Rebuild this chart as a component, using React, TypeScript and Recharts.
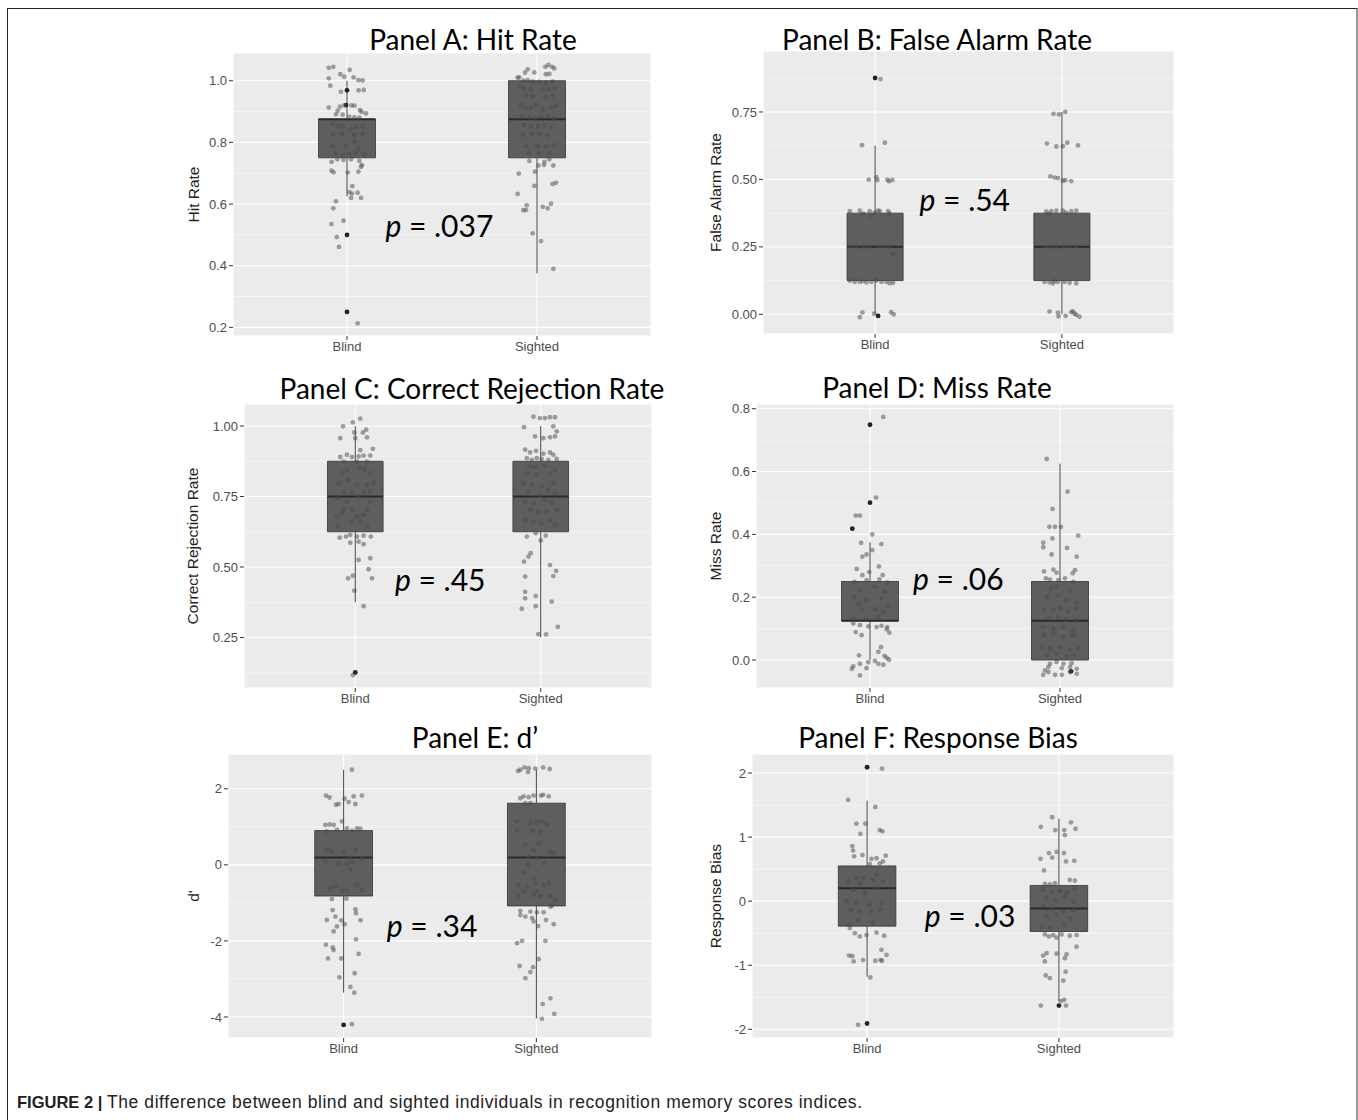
import React from 'react'
import {
  ComposedChart,
  Scatter,
  XAxis,
  YAxis,
  CartesianGrid,
  ReferenceArea,
  ReferenceLine,
} from 'recharts'

const groups = ['Blind', 'Sighted']

// jittered points: [offset from group, value]
const hitBlind = [
  [-0.096, 1.042], [-0.072, 1.045], [-0.035, 1.021], [-0.014, 1.013], [0.014, 1.035], [0.035, 1.011],
  [0.06, 1.002], [0.082, 1.001], [-0.096, 1.008], [-0.088, 0.984], [-0.032, 0.964], [0.061, 0.969],
  [0.088, 0.97], [-0.096, 0.913], [-0.049, 0.903], [-0.037, 0.916], [-0.014, 0.92], [0.023, 0.92],
  [0.039, 0.919], [0.068, 0.905], [0.077, 0.899], [0.1, 0.894], [-0.058, 0.891], [-0.023, 0.89],
  [0.012, 0.883], [0.039, 0.881], [0.065, 0.88], [-0.075, 0.862], [-0.049, 0.853], [-0.023, 0.851],
  [0.021, 0.845], [0.047, 0.851], [0.082, 0.853], [-0.075, 0.827], [-0.028, 0.829], [0.039, 0.824],
  [0.082, 0.829], [-0.075, 0.786], [-0.005, 0.788], [0.04, 0.802], [0.061, 0.78], [-0.058, 0.764],
  [-0.023, 0.759], [0.012, 0.761], [0.047, 0.766], [0.091, 0.76], [-0.081, 0.737], [-0.051, 0.745],
  [-0.019, 0.743], [0.021, 0.745], [0.065, 0.74], [0.079, 0.726], [-0.082, 0.708], [-0.07, 0.703],
  [0.004, 0.702], [0.06, 0.705], [0.074, 0.721], [0.028, 0.658], [0.012, 0.639], [0.026, 0.634],
  [0.056, 0.637], [0.074, 0.62], [0.021, 0.62], [-0.058, 0.609], [-0.072, 0.586], [-0.082, 0.535],
  [-0.018, 0.546], [-0.054, 0.493], [-0.042, 0.461], [0.056, 0.213],
]
const hitSighted = [
  [-0.102, 1.01], [-0.093, 1.011], [-0.063, 1.026], [-0.049, 1.037], [-0.014, 1.027], [0.044, 1.045],
  [0.06, 1.051], [0.079, 1.045], [0.091, 1.04], [0.047, 1.021], [0.065, 1.022], [-0.072, 1.0],
  [-0.049, 1.002], [-0.023, 0.997], [0.012, 0.996], [0.047, 0.994], [0.082, 0.997], [-0.089, 0.981],
  [-0.067, 0.975], [-0.032, 0.972], [0.03, 0.975], [0.061, 0.972], [0.091, 0.975], [-0.058, 0.954],
  [-0.023, 0.95], [0.047, 0.945], [0.082, 0.952], [-0.084, 0.918], [-0.061, 0.91], [-0.032, 0.913],
  [-0.005, 0.921], [0.03, 0.907], [0.074, 0.913], [0.1, 0.918], [-0.075, 0.883], [-0.04, 0.881],
  [-0.009, 0.878], [0.021, 0.883], [0.056, 0.886], [0.091, 0.878], [-0.067, 0.856], [-0.032, 0.851],
  [0.004, 0.853], [0.039, 0.856], [0.074, 0.849], [-0.072, 0.824], [-0.026, 0.827], [0.012, 0.829],
  [0.056, 0.824], [-0.058, 0.788], [0.004, 0.788], [0.047, 0.786], [0.091, 0.791], [-0.044, 0.766],
  [0.009, 0.764], [0.065, 0.766], [-0.04, 0.74], [0.039, 0.737], [0.065, 0.745], [0.086, 0.725],
  [0.007, 0.725], [0.037, 0.727], [-0.096, 0.699], [-0.011, 0.705], [-0.014, 0.659], [0.1, 0.669],
  [0.082, 0.665], [-0.102, 0.633], [-0.054, 0.596], [-0.072, 0.58], [-0.058, 0.58], [0.03, 0.591],
  [0.056, 0.586], [0.074, 0.601], [-0.023, 0.505], [0.021, 0.48], [0.086, 0.39],
]
const hitBlindDark = [[0, 0.969], [-0.005, 0.921], [0, 0.5], [0, 0.25]]
const hitSightedDark: number[][] = []

const faBlind = [
  [-0.07, 0.627], [0.052, 0.636], [-0.034, 0.499], [0.007, 0.508], [0.012, 0.497], [0.066, 0.499],
  [0.093, 0.498], [0.075, 0.493], [0.029, 0.872], [-0.135, 0.382], [-0.082, 0.384], [-0.064, 0.373],
  [-0.029, 0.382], [-0.02, 0.367], [-0.002, 0.377], [0.016, 0.384], [0.025, 0.382], [0.07, 0.382],
  [0.078, 0.373], [-0.135, 0.251], [-0.1, 0.251], [-0.064, 0.25], [-0.029, 0.251], [0.016, 0.251],
  [0.043, 0.251], [0.078, 0.251], [0.096, 0.222], [-0.135, 0.124], [-0.109, 0.12], [-0.082, 0.12],
  [-0.064, 0.123], [-0.046, 0.118], [-0.02, 0.12], [0.007, 0.125], [0.034, 0.12], [0.061, 0.12],
  [0.078, 0.115], [0.096, 0.117], [-0.082, -0.011], [-0.068, 0.007], [-0.005, 0.002], [0.086, 0.008],
  [0.1, 0.0],
]
const faSighted = [
  [-0.045, 0.743], [-0.016, 0.741], [0.018, 0.75], [-0.08, 0.633], [-0.03, 0.622], [0.005, 0.623],
  [0.029, 0.636], [0.086, 0.626], [-0.062, 0.511], [-0.039, 0.507], [-0.021, 0.505], [0.005, 0.495],
  [0.018, 0.497], [0.05, 0.494], [-0.084, 0.381], [-0.057, 0.382], [-0.03, 0.384], [0.005, 0.384],
  [0.023, 0.377], [0.05, 0.382], [0.077, 0.384], [-0.07, 0.373], [-0.087, 0.25], [-0.057, 0.251],
  [-0.03, 0.25], [0.005, 0.251], [0.041, 0.251], [0.077, 0.251], [-0.093, 0.12], [-0.066, 0.118],
  [-0.048, 0.115], [-0.021, 0.12], [0.014, 0.12], [0.041, 0.117], [0.077, 0.115], [-0.039, 0.123],
  [-0.066, 0.01], [-0.021, 0.006], [-0.018, -0.008], [0.02, -0.006], [0.05, 0.008], [0.059, 0.011],
  [0.068, 0.002], [0.077, -0.002], [0.094, -0.009],
]
const faBlindDark = [[0, 0.876], [0.016, -0.006]]
const faSightedDark: number[][] = []

const crBlind = [
  [0.027, 1.026], [-0.013, 1.013], [-0.066, 0.999], [-0.005, 0.977], [0.041, 0.977], [0.059, 0.987],
  [-0.081, 0.957], [0.0, 0.957], [0.063, 0.96], [0.027, 0.914], [0.095, 0.919], [-0.081, 0.89],
  [-0.045, 0.898], [-0.018, 0.89], [0.018, 0.892], [0.045, 0.895], [0.081, 0.895], [-0.063, 0.874],
  [0.009, 0.874], [0.063, 0.874], [-0.072, 0.833], [-0.045, 0.845], [0.023, 0.851], [0.05, 0.845],
  [0.081, 0.833], [-0.036, 0.809], [-0.09, 0.797], [0.009, 0.791], [0.063, 0.791], [0.099, 0.797],
  [-0.063, 0.764], [-0.018, 0.762], [0.045, 0.764], [0.081, 0.768], [-0.099, 0.744], [-0.045, 0.732],
  [0.018, 0.75], [0.081, 0.732], [-0.063, 0.705], [-0.018, 0.703], [0.063, 0.703], [-0.099, 0.679],
  [-0.072, 0.691], [0.009, 0.679], [0.045, 0.685], [-0.018, 0.661], [0.027, 0.661], [-0.095, 0.646],
  [0.063, 0.643], [-0.084, 0.604], [-0.05, 0.608], [-0.027, 0.614], [0.009, 0.608], [0.045, 0.611],
  [0.084, 0.608], [-0.027, 0.586], [0.018, 0.59], [0.045, 0.581], [0.018, 0.525], [0.081, 0.531],
  [0.072, 0.492], [0.09, 0.46], [-0.039, 0.46], [-0.013, 0.469], [-0.005, 0.416], [0.045, 0.361],
  [-0.013, 0.117],
]
const crSighted = [
  [-0.039, 1.033], [-0.004, 1.028], [0.023, 1.028], [0.05, 1.031], [0.077, 1.031], [-0.09, 0.996],
  [0.068, 0.999], [0.086, 0.981], [-0.031, 0.963], [0.014, 0.957], [0.05, 0.96], [0.077, 0.963],
  [-0.084, 0.916], [-0.057, 0.906], [-0.025, 0.912], [0.014, 0.902], [0.05, 0.906], [0.068, 0.898],
  [-0.075, 0.886], [-0.048, 0.88], [-0.022, 0.886], [0.005, 0.883], [0.041, 0.88], [0.086, 0.883],
  [-0.057, 0.857], [-0.031, 0.854], [0.023, 0.859], [0.077, 0.845], [-0.075, 0.833], [-0.022, 0.827],
  [0.05, 0.831], [-0.093, 0.797], [-0.048, 0.791], [0.005, 0.786], [0.068, 0.797], [-0.066, 0.768],
  [-0.004, 0.756], [0.041, 0.774], [0.077, 0.759], [-0.084, 0.732], [-0.039, 0.726], [0.023, 0.738],
  [0.059, 0.729], [-0.057, 0.703], [-0.013, 0.693], [0.032, 0.697], [0.086, 0.703], [-0.084, 0.667],
  [-0.039, 0.661], [0.005, 0.655], [0.05, 0.667], [0.077, 0.649], [-0.075, 0.608], [-0.027, 0.62],
  [0.0, 0.594], [0.027, 0.611], [-0.054, 0.549], [-0.066, 0.537], [-0.09, 0.519], [0.05, 0.507],
  [0.083, 0.486], [0.068, 0.468], [-0.084, 0.466], [-0.084, 0.412], [-0.027, 0.397], [-0.084, 0.389],
  [-0.102, 0.352], [-0.027, 0.361], [0.059, 0.377], [0.092, 0.288], [-0.013, 0.262], [0.029, 0.261],
]
const crBlindDark = [[0, 0.126]]
const crSightedDark: number[][] = []

const missBlind = [
  [0.07, 0.774], [0.032, 0.517], [-0.075, 0.46], [-0.053, 0.46], [0.012, 0.4], [-0.047, 0.373],
  [0.06, 0.369], [0.012, 0.35], [-0.04, 0.329], [-0.018, 0.336], [0.047, 0.298], [-0.07, 0.29],
  [-0.004, 0.28], [-0.04, 0.27], [0.067, 0.27], [-0.082, 0.249], [-0.018, 0.254], [0.049, 0.257],
  [0.091, 0.247], [-0.053, 0.222], [0.026, 0.233], [0.079, 0.217], [-0.084, 0.201], [-0.018, 0.19],
  [0.061, 0.197], [-0.061, 0.18], [0.096, 0.172], [-0.044, 0.159], [0.026, 0.162], [0.07, 0.153],
  [-0.088, 0.132], [-0.018, 0.132], [0.044, 0.137], [-0.088, 0.116], [-0.053, 0.111], [-0.009, 0.107],
  [0.035, 0.105], [0.061, 0.109], [0.091, 0.105], [-0.075, 0.089], [-0.044, 0.079], [0.088, 0.098],
  [0.102, 0.087], [0.058, 0.041], [0.044, 0.026], [-0.058, 0.015], [0.077, 0.013], [-0.009, -0.007],
  [0.026, -0.003], [0.088, 0.007], [0.1, 0.001], [-0.053, -0.012], [0.044, -0.012], [0.07, -0.015],
  [-0.088, -0.02], [-0.096, -0.028], [-0.018, -0.026], [-0.053, -0.049],
]
const missSighted = [
  [-0.07, 0.64], [0.04, 0.536], [-0.039, 0.481], [-0.056, 0.424], [-0.026, 0.424], [0.005, 0.424],
  [0.096, 0.396], [-0.088, 0.374], [-0.088, 0.359], [-0.04, 0.387], [0.037, 0.357], [-0.044, 0.336],
  [0.088, 0.329], [0.079, 0.286], [-0.084, 0.282], [-0.018, 0.278], [-0.035, 0.288], [0.067, 0.276],
  [-0.074, 0.26], [-0.053, 0.256], [-0.009, 0.254], [0.026, 0.26], [0.07, 0.249], [-0.047, 0.228],
  [-0.018, 0.233], [0.053, 0.222], [-0.067, 0.201], [-0.009, 0.206], [0.035, 0.19], [0.088, 0.183],
  [-0.084, 0.159], [-0.035, 0.161], [0.0, 0.164], [0.044, 0.156], [0.088, 0.167], [-0.061, 0.132],
  [-0.009, 0.137], [0.035, 0.129], [0.088, 0.127], [-0.088, 0.105], [-0.035, 0.1], [0.018, 0.105],
  [0.07, 0.095], [-0.084, 0.079], [-0.035, 0.084], [0.018, 0.073], [0.061, 0.079], [0.079, 0.079],
  [-0.096, 0.041], [-0.053, 0.036], [0.0, 0.041], [0.053, 0.033], [0.096, 0.036], [-0.07, 0.015],
  [-0.018, 0.02], [0.035, 0.012], [0.07, 0.018], [-0.053, -0.012], [-0.018, -0.006], [0.018, -0.012],
  [0.061, -0.01], [-0.061, -0.022], [-0.079, -0.033], [0.009, -0.026], [0.053, -0.022], [0.088, -0.028],
  [-0.088, -0.047], [-0.061, -0.038], [-0.026, -0.047], [0.009, -0.047], [0.053, -0.038], [0.088, -0.044],
]
const missBlindDark = [[0, 0.749], [0, 0.501], [-0.093, 0.418]]
const missSightedDark = [[0.058, -0.036]]

const dBlind = [
  [0.043, 2.5], [-0.092, 1.82], [-0.073, 1.77], [-0.04, 1.58], [-0.026, 1.6], [0.005, 1.74],
  [0.026, 1.65], [0.052, 1.8], [0.061, 1.6], [0.095, 1.82], [-0.095, 1.05], [-0.073, 1.06],
  [-0.052, 1.05], [-0.009, 1.14], [0.017, 0.96], [0.043, 0.89], [0.069, 0.96], [0.087, 0.95],
  [-0.087, 0.88], [-0.035, 0.92], [-0.087, 0.39], [-0.061, 0.35], [0.0, 0.35], [0.031, 0.18],
  [0.061, 0.39], [0.095, 0.18], [-0.095, 0.09], [-0.026, 0.04], [0.017, 0.02], [0.043, 0.09],
  [0.035, -0.13], [-0.043, -0.57], [-0.069, -0.61], [-0.009, -0.68], [0.017, -0.68], [0.069, -0.53],
  [0.095, -0.66], [-0.061, -0.9], [0.014, -0.89], [-0.057, -1.19], [0.061, -1.17], [0.064, -1.27],
  [-0.087, -1.45], [-0.043, -1.36], [-0.012, -1.46], [0.005, -1.56], [0.088, -1.46], [-0.035, -1.62],
  [-0.052, -1.75], [0.064, -1.96], [-0.092, -2.1], [-0.057, -2.17], [-0.052, -2.24], [0.078, -2.34],
  [-0.081, -2.46], [-0.012, -2.46], [0.057, -2.85], [-0.022, -2.96], [0.035, -3.21], [0.055, -3.36],
  [0.043, -4.19],
]
const dSighted = [
  [-0.095, 2.47], [-0.083, 2.5], [-0.062, 2.56], [-0.04, 2.54], [-0.043, 2.44], [-0.005, 2.53],
  [0.035, 2.56], [0.069, 2.52], [-0.083, 1.75], [-0.066, 1.8], [-0.04, 1.78], [-0.014, 1.82],
  [0.024, 1.82], [0.035, 1.84], [0.064, 1.8], [-0.057, 1.62], [-0.031, 1.62], [-0.1, 1.14],
  [-0.031, 1.1], [0.003, 1.12], [0.029, 1.14], [0.055, 1.07], [-0.1, 0.92], [-0.017, 0.89],
  [0.021, 0.88], [-0.057, 0.53], [-0.014, 0.39], [0.012, 0.57], [0.069, 0.35], [-0.04, 0.22],
  [0.003, 0.18], [0.09, 0.31], [-0.045, 0.0], [0.038, 0.04], [-0.066, -0.18], [-0.014, -0.35],
  [-0.092, -0.53], [-0.048, -0.57], [-0.005, -0.48], [0.038, -0.53], [0.064, -0.48], [-0.066, -0.7],
  [0.003, -0.7], [0.073, -0.83], [-0.092, -0.83], [-0.014, -0.79], [0.021, -0.83], [0.099, -0.92],
  [0.081, -1.07], [-0.083, -1.21], [-0.031, -1.23], [0.003, -1.25], [0.038, -1.25], [0.073, -1.1],
  [-0.083, -1.32], [-0.057, -1.36], [-0.022, -1.4], [-0.014, -1.49], [0.05, -1.45], [0.09, -1.56],
  [0.009, -1.61], [-0.1, -2.06], [-0.074, -2.0], [0.047, -2.0], [-0.087, -2.66], [-0.017, -2.69],
  [-0.031, -2.82], [-0.057, -2.98], [0.012, -2.48], [0.073, -3.51], [0.033, -3.66], [0.093, -3.92],
  [0.029, -4.05],
]
const dBlindDark = [[0, -4.21]]
const dSightedDark: number[][] = []

const biasBlind = [
  [0.078, 2.07], [-0.099, 1.58], [0.043, 1.47], [-0.056, 1.21], [-0.009, 1.21], [-0.035, 1.05],
  [0.066, 1.11], [0.08, 1.09], [-0.077, 0.86], [-0.073, 0.79], [-0.024, 0.72], [-0.068, 0.7],
  [0.097, 0.71], [0.023, 0.66], [0.049, 0.67], [0.083, 0.62], [0.014, 0.58], [0.066, 0.59],
  [-0.056, 0.36], [-0.021, 0.37], [0.049, 0.41], [-0.094, 0.31], [-0.038, 0.28], [0.031, 0.33],
  [0.083, 0.31], [-0.073, 0.18], [-0.012, 0.13], [0.049, 0.2], [-0.108, 0.0], [-0.056, -0.03],
  [0.014, -0.06], [0.075, -0.03], [-0.085, -0.14], [-0.038, -0.16], [0.023, -0.16], [0.066, -0.14],
  [-0.09, -0.37], [-0.047, -0.29], [0.031, -0.34], [-0.09, -0.42], [-0.064, -0.5], [-0.038, -0.55],
  [-0.003, -0.53], [0.049, -0.49], [0.089, -0.54], [0.075, -0.76], [0.101, -0.84], [-0.094, -0.85],
  [-0.07, -0.94], [-0.021, -0.92], [0.043, -0.93], [0.07, -0.92], [0.078, -0.93], [-0.077, -0.86],
  [0.017, -1.19], [-0.047, -1.93],
]
const biasSighted = [
  [-0.035, 1.31], [-0.094, 1.16], [-0.019, 1.11], [0.028, 1.11], [0.063, 1.23], [0.087, 1.13],
  [0.031, 1.03], [-0.052, 0.75], [-0.012, 0.77], [0.026, 0.75], [-0.035, 0.68], [-0.096, 0.66],
  [0.037, 0.62], [0.08, 0.63], [-0.078, 0.48], [-0.073, 0.27], [-0.047, 0.26], [-0.021, 0.28],
  [0.057, 0.33], [0.083, 0.32], [-0.082, 0.18], [-0.038, 0.15], [0.005, 0.16], [0.04, 0.14],
  [0.083, 0.2], [-0.064, 0.05], [-0.021, 0.02], [0.031, 0.07], [0.075, -0.01], [-0.082, -0.08],
  [-0.038, -0.11], [0.023, -0.16], [0.075, -0.14], [-0.064, -0.24], [-0.012, -0.21], [0.057, -0.27],
  [-0.09, -0.4], [-0.047, -0.42], [0.031, -0.37], [-0.073, -0.52], [-0.03, -0.53], [0.014, -0.52],
  [0.057, -0.54], [0.092, -0.53], [-0.052, -0.55], [-0.012, -0.57], [0.092, -0.71], [-0.064, -0.81],
  [-0.012, -0.82], [0.04, -0.83], [-0.082, -0.85], [-0.073, -0.94], [0.031, -0.89], [-0.069, -1.16],
  [-0.047, -1.2], [0.035, -1.1], [0.023, -1.24], [0.01, -1.56], [0.028, -1.54], [-0.094, -1.63],
  [0.037, -1.63],
]
const biasBlindDark = [[0, 2.09], [0, -1.91]]
const biasSightedDark = [[0, -1.63]]

// box stats per group: [lower whisker, q1, median, q3, upper whisker]
const hitBoxes = [[0.625, 0.75, 0.875, 0.875, 1.0], [0.375, 0.75, 0.875, 1.0, 1.0]]
const faBoxes = [[0, 0.125, 0.25, 0.375, 0.625], [0, 0.125, 0.25, 0.375, 0.75]]
const crBoxes = [[0.375, 0.625, 0.75, 0.875, 1.0], [0.25, 0.625, 0.75, 0.875, 1.0]]
const missBoxes = [[0, 0.125, 0.125, 0.25, 0.375], [0, 0, 0.125, 0.25, 0.625]]
const dBoxes = [[-3.36, -0.82, 0.19, 0.9, 2.5], [-4.04, -1.08, 0.19, 1.62, 2.5]]
const biasBoxes = [[-1.18, -0.39, 0.2, 0.55, 1.57], [-1.56, -0.474, -0.115, 0.245, 1.29]]

const panels = [
  {
    title: 'Panel A: Hit Rate', yLabel: 'Hit Rate', p: '.037', pPos: [1.486, 0.494],
    points: [hitBlind, hitSighted], dark: [hitBlindDark, hitSightedDark], boxes: hitBoxes,
    domain: [0.172, 1.09], ticks: [0.2, 0.4, 0.6, 0.8, 1.0], minor: [0.3, 0.5, 0.7, 0.9], digits: 1,
    left: 233, top: 53, right: 651, bottom: 336, titleX: 473, titleY: 50, labelX: 193,
  },
  {
    title: 'Panel B: False Alarm Rate', yLabel: 'False Alarm Rate', p: '.54', pPos: [1.48, 0.382],
    points: [faBlind, faSighted], dark: [faBlindDark, faSightedDark], boxes: faBoxes,
    domain: [-0.073, 0.976], ticks: [0, 0.25, 0.5, 0.75], minor: [0.125, 0.375, 0.625, 0.875], digits: 2,
    left: 763, top: 51, right: 1174, bottom: 334, titleX: 937, titleY: 49.5, labelX: 715,
  },
  {
    title: 'Panel C: Correct Rejection Rate', yLabel: 'Correct Rejection Rate', p: '.45', pPos: [1.458, 0.416],
    points: [crBlind, crSighted], dark: [crBlindDark, crSightedDark], boxes: crBoxes,
    domain: [0.071, 1.078], ticks: [0.25, 0.5, 0.75, 1.0], minor: [0.125, 0.375, 0.625, 0.875], digits: 2,
    left: 244, top: 404, right: 652, bottom: 688, titleX: 472, titleY: 398.5, labelX: 192,
  },
  {
    title: 'Panel D: Miss Rate', yLabel: 'Miss Rate', p: '.06', pPos: [1.465, 0.222],
    points: [missBlind, missSighted], dark: [missBlindDark, missSightedDark], boxes: missBoxes,
    domain: [-0.089, 0.815], ticks: [0, 0.2, 0.4, 0.6, 0.8], minor: [0.1, 0.3, 0.5, 0.7], digits: 1,
    left: 756, top: 404, right: 1174, bottom: 688, titleX: 937, titleY: 398, labelX: 715,
  },
  {
    title: 'Panel E: d\u2019', yLabel: "d'", p: '.34', pPos: [1.459, -1.905],
    points: [dBlind, dSighted], dark: [dBlindDark, dSightedDark], boxes: dBoxes,
    domain: [-4.553, 2.914], ticks: [-4, -2, 0, 2], minor: [-3, -1, 1], digits: 0,
    left: 228, top: 754, right: 652, bottom: 1038, titleX: 475, titleY: 748, labelX: 193,
  },
  {
    title: 'Panel F: Response Bias', yLabel: 'Response Bias', p: '.03', pPos: [1.537, -0.407],
    points: [biasBlind, biasSighted], dark: [biasBlindDark, biasSightedDark], boxes: biasBoxes,
    domain: [-2.136, 2.297], ticks: [-2, -1, 0, 1, 2], minor: [-1.5, -0.5, 0.5, 1.5], digits: 0,
    left: 752, top: 754, right: 1174, bottom: 1038, titleX: 938, titleY: 748, labelX: 715,
  },
]

const AXIS_W = 60
const TOP_PAD = 10
const AXIS_H = 30
const tickFont = { fill: '#4d4d4d', fontSize: 13, fontFamily: 'Liberation Sans, Arial, sans-serif' }

const jitterDot = (s: any) => (
  <circle cx={s.cx} cy={s.cy} r={2.4} fill="#4a4a4a" fillOpacity={0.5} />
)
const darkDot = (s: any) => <circle cx={s.cx} cy={s.cy} r={2.4} fill="#222" />

function Panel({ cfg }: { cfg: any }) {
  const w = cfg.right - cfg.left
  const h = cfg.bottom - cfg.top
  const jitter = cfg.points.flatMap((pts: number[][], g: number) =>
    pts.map(([d, y]) => ({ x: g + 1 + d, y }))
  )
  const dark = cfg.dark.flatMap((pts: number[][], g: number) =>
    pts.map(([d, y]) => ({ x: g + 1 + d, y }))
  )
  const pLabel = (s: any) => (
    <text x={s.cx} y={s.cy} textAnchor="middle" fontFamily="Lato, sans-serif" fontSize={30} fill="#000">
      <tspan fontStyle="italic">p</tspan> = {cfg.p}
    </text>
  )
  return (
    <div style={{ position: 'absolute', left: cfg.left - AXIS_W, top: cfg.top - TOP_PAD }}>
      <ComposedChart
        width={w + AXIS_W + 4}
        height={h + TOP_PAD + AXIS_H}
        margin={{ top: TOP_PAD, right: 4, bottom: 0, left: 0 }}
      >
        <CartesianGrid fill="#ebebeb" stroke="#ffffff" strokeWidth={1.1} />
        <CartesianGrid horizontalValues={cfg.minor} vertical={false} stroke="#ffffff" strokeWidth={0.5} />
        <XAxis
          type="number"
          dataKey="x"
          domain={[0.4, 2.6]}
          ticks={[1, 2]}
          interval={0}
          allowDataOverflow
          tickFormatter={(v: number) => groups[v - 1]}
          axisLine={false}
          tickLine={{ stroke: '#333' }}
          tickSize={4}
          height={AXIS_H}
          tick={tickFont}
        />
        <YAxis
          type="number"
          dataKey="y"
          domain={cfg.domain}
          ticks={cfg.ticks}
          interval={0}
          allowDataOverflow
          tickFormatter={(v: number) => v.toFixed(cfg.digits)}
          axisLine={false}
          tickLine={{ stroke: '#333' }}
          tickSize={4}
          width={AXIS_W}
          tick={tickFont}
        />
        {cfg.boxes.map((b: number[], i: number) => (
          <ReferenceArea
            key={'box' + i}
            x1={i + 0.85}
            x2={i + 1.15}
            y1={b[1]}
            y2={b[3]}
            fill="#5e5e5e"
            fillOpacity={1}
            stroke="#333"
            strokeWidth={0.8}
          />
        ))}
        {cfg.boxes.map((b: number[], i: number) => (
          <ReferenceLine
            key={'hi' + i}
            segment={[{ x: i + 1, y: b[3] }, { x: i + 1, y: b[4] }]}
            stroke="#444"
            strokeWidth={1}
          />
        ))}
        {cfg.boxes.map((b: number[], i: number) => (
          <ReferenceLine
            key={'lo' + i}
            segment={[{ x: i + 1, y: b[0] }, { x: i + 1, y: b[1] }]}
            stroke="#444"
            strokeWidth={1}
          />
        ))}
        {cfg.boxes.map((b: number[], i: number) => (
          <ReferenceLine
            key={'med' + i}
            segment={[{ x: i + 0.85, y: b[2] }, { x: i + 1.15, y: b[2] }]}
            stroke="#2b2b2b"
            strokeWidth={2}
          />
        ))}
        <Scatter data={dark} shape={darkDot} isAnimationActive={false} />
        <Scatter data={jitter} shape={jitterDot} isAnimationActive={false} />
        <Scatter data={[{ x: cfg.pPos[0], y: cfg.pPos[1] }]} shape={pLabel} isAnimationActive={false} />
      </ComposedChart>
    </div>
  )
}

export default function App() {
  return (
    <div style={{ position: 'absolute', left: 0, top: 0, width: 1358, height: 1120, background: '#fff', overflow: 'hidden' }}>
      <div
        style={{
          position: 'absolute', left: 7, top: 8, width: 1348, height: 1130,
          borderTop: '1.5px solid #222', borderLeft: '1px solid #222', borderRight: '2px solid #999',
        }}
      />
      <svg width={1358} height={1120} style={{ position: 'absolute', left: 0, top: 0 }}>
        {panels.map((cfg) => (
          <g key={cfg.title}>
            <text
              x={cfg.titleX}
              y={cfg.titleY}
              textAnchor="middle"
              fontFamily="Lato, sans-serif"
              fontSize={28}
              fill="#000"
            >
              {cfg.title}
            </text>
            <text
              x={cfg.labelX}
              y={(cfg.top + cfg.bottom) / 2}
              transform={`rotate(-90 ${cfg.labelX} ${(cfg.top + cfg.bottom) / 2})`}
              textAnchor="middle"
              dominantBaseline="central"
              fontFamily="Liberation Sans, Arial, sans-serif"
              fontSize={15.5}
              fill="#222"
            >
              {cfg.yLabel}
            </text>
          </g>
        ))}
        <text x={17} y={1108} fontFamily="Liberation Sans, Arial, sans-serif" fontSize={16.5} fontWeight="bold" fill="#222">
          FIGURE 2 |
        </text>
        <text
          x={107}
          y={1108}
          fontFamily="Liberation Sans, Arial, sans-serif"
          fontSize={17.5}
          fill="#222"
          textLength={755}
          lengthAdjust="spacing"
        >
          The difference between blind and sighted individuals in recognition memory scores indices.
        </text>
      </svg>
      {panels.map((cfg) => (
        <Panel key={cfg.title} cfg={cfg} />
      ))}
    </div>
  )
}
